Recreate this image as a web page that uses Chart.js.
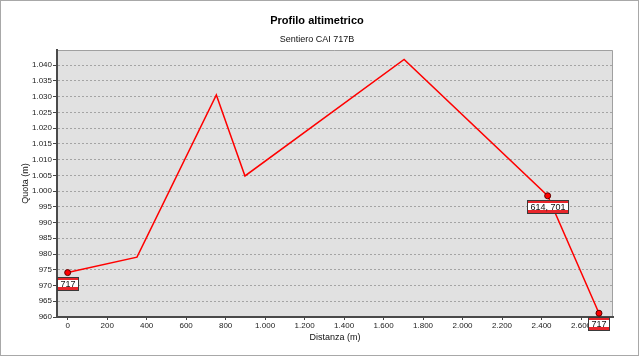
<!DOCTYPE html>
<html>
<head>
<meta charset="utf-8">
<script src="https://cdn.jsdelivr.net/npm/chart.js@4"></script>
<style>
  body { margin: 0; background: #fff; }
  canvas { display: block; }
</style>
</head>
<body>
<canvas id="profileChart" width="640" height="357"></canvas>
<script>
// distanza (m) e quota (m) dei vertici del profilo
const distances = [0, 351, 753, 898, 1704, 2431, 2691];
const heights = [974.1, 979.0, 1030.5, 1004.8, 1041.8, 998.5, 961.2];
const pointLabels = ["717", "", "", "", "", "614, 701", "717"];
const quotaTicks = [960, 965, 970, 975, 980, 985, 990, 995, 1000, 1005, 1010, 1015, 1020, 1025, 1030, 1035, 1040];
const distanceTicks = [0, 200, 400, 600, 800, 1000, 1200, 1400, 1600, 1800, 2000, 2200, 2400, 2600];
const titleText = "Profilo altimetrico";
const subtitleText = "Sentiero CAI 717B";

const fmt = (v) => String(v).replace(/\B(?=(\d{3})+(?!\d))/g, ".");
const FONT = "'Liberation Sans', Arial, sans-serif";

const frame = {
  id: "frame",
  beforeDraw(chart) {
    const {ctx, chartArea: a} = chart;
    ctx.save();
    ctx.fillStyle = "#fff";
    ctx.fillRect(0, 0, chart.width, chart.height);
    ctx.strokeStyle = "#a8a8a8";
    ctx.lineWidth = 1;
    ctx.strokeRect(0.5, 0.5, 638, 355);
    ctx.fillStyle = "#e1e1e1";
    ctx.fillRect(a.left, a.top, a.right - a.left, a.bottom - a.top);
    ctx.strokeStyle = "#a0a0a0";
    ctx.beginPath();
    ctx.moveTo(a.left, a.top + 0.5);
    ctx.lineTo(a.right - 0.5, a.top + 0.5);
    ctx.lineTo(a.right - 0.5, a.bottom);
    ctx.stroke();
    // titolo e sottotitolo
    ctx.textAlign = "center";
    ctx.textBaseline = "middle";
    ctx.fillStyle = "#000";
    ctx.font = "bold 11px " + FONT;
    ctx.fillText(titleText, 317, 21);
    ctx.fillStyle = "#111";
    ctx.font = "9px " + FONT;
    ctx.fillText(subtitleText, 317, 40);
    ctx.restore();
  }
};

const boxLabels = {
  id: "boxLabels",
  afterDraw(chart) {
    const {ctx} = chart;
    const meta = chart.getDatasetMeta(0);
    ctx.save();
    ctx.font = "9px " + FONT;
    ctx.textAlign = "center";
    ctx.textBaseline = "middle";
    pointLabels.forEach((label, i) => {
      if (!label) return;
      const p = meta.data[i];
      const w = Math.round(ctx.measureText(label).width + 7);
      const x = Math.round(p.x - w / 2);
      const y = Math.round(p.y + 4);
      ctx.fillStyle = "#3a3a3a";
      ctx.fillRect(x, y, w, 14);
      ctx.fillStyle = "#e8262b";
      ctx.fillRect(x + 1, y + 1, w - 2, 12);
      ctx.fillStyle = "#fff";
      ctx.fillRect(x + 1, y + 3, w - 2, 7);
      ctx.fillStyle = "#111";
      ctx.fillText(label, x + w / 2, y + 7.5);
    });
    ctx.restore();
  }
};

new Chart(document.getElementById("profileChart"), {
  type: "line",
  data: {
    datasets: [{
      data: distances.map((d, i) => ({x: d, y: heights[i]})),
      borderColor: "#ff0000",
      borderWidth: 1.5,
      tension: 0,
      pointRadius: pointLabels.map((l) => l ? 3 : 0),
      pointBackgroundColor: "#ff0000",
      pointBorderColor: "#5a0000",
      pointBorderWidth: 1
    }]
  },
  options: {
    responsive: false,
    animation: false,
    layout: {padding: {left: 0, right: 27, top: 50, bottom: 0}},
    plugins: {
      legend: {display: false},
      tooltip: {enabled: false}
    },
    scales: {
      x: {
        type: "linear",
        min: -54,
        max: 2762,
        afterBuildTicks: (scale) => { scale.ticks = distanceTicks.map((v) => ({value: v})); },
        afterFit: (scale) => { scale.height = 40; },
        ticks: {
          callback: (v) => fmt(v),
          color: "#222",
          font: {family: FONT, size: 8},
          padding: 1,
          maxRotation: 0
        },
        grid: {drawOnChartArea: false, drawTicks: true, tickLength: 3, tickColor: "#444"},
        border: {color: "#4a4a4a", width: 2},
        title: {
          display: true,
          text: "Distanza (m)",
          color: "#111",
          font: {family: FONT, size: 9},
          padding: {top: 0, bottom: 13.6}
        }
      },
      y: {
        min: 960,
        max: 1044.8,
        afterBuildTicks: (scale) => { scale.ticks = quotaTicks.map((v) => ({value: v})); },
        afterFit: (scale) => { scale.width = 57; },
        ticks: {
          callback: (v) => fmt(v),
          color: "#222",
          font: {family: FONT, size: 8},
          padding: 1
        },
        grid: {color: "#a4a4a4", lineWidth: 1, tickLength: 4, tickColor: "#444", tickBorderDash: []},
        border: {color: "#4a4a4a", width: 2, dash: [2, 2]},
        title: {
          display: true,
          text: "Quota (m)",
          color: "#111",
          font: {family: FONT, size: 9},
          padding: {top: 20, bottom: 0}
        }
      }
    }
  },
  plugins: [frame, boxLabels]
});
</script>
</body>
</html>
